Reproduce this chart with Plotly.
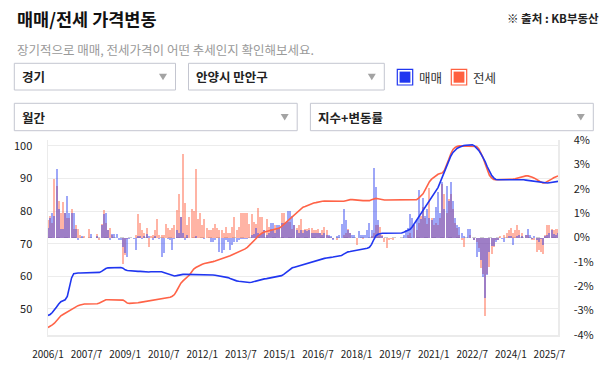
import plotly.graph_objects as go

# ---------------- data ----------------
months = [f"{y}/{m}" for y in range(2006, 2026) for m in range(1, 13)][:239]
tick_labels = months[::18]

sale_index = [
    48.0, 48.3, 48.9, 49.6, 50.6, 51.5, 52.2, 52.5, 52.8, 53.8, 56.5, 59.5,
    60.8, 61.0, 61.0, 61.0, 61.0, 61.0, 61.0, 61.0, 61.0, 61.0, 61.1, 61.1,
    61.2, 61.5, 62.0, 62.4, 62.6, 62.6, 62.7, 62.7, 62.8, 62.8, 62.7, 62.5,
    62.0, 61.8, 61.7, 61.6, 61.6, 61.5, 61.5, 61.5, 61.4, 61.3, 61.3, 61.3,
    61.4, 61.4, 61.5, 61.5, 61.5, 61.4, 61.2, 61.0, 60.8, 60.5, 60.2, 60.1,
    60.2, 60.4, 60.5, 60.6, 60.6, 60.6, 60.5, 60.5, 60.5, 60.4, 60.4, 60.4,
    60.4, 60.4, 60.4, 60.4, 60.4, 60.4, 60.3, 60.2, 60.1, 60.0, 59.9, 59.8,
    59.6, 59.3, 59.0, 58.8, 58.6, 58.5, 58.4, 58.3, 58.2, 58.1, 58.1, 58.2,
    58.4, 58.6, 58.8, 59.0, 59.1, 59.2, 59.3, 59.4, 59.5, 59.6, 59.7, 59.8,
    59.9, 60.2, 60.6, 61.1, 61.6, 62.1, 62.6, 62.8, 63.0, 63.2, 63.4, 63.6,
    63.9, 64.1, 64.3, 64.5, 64.6, 64.8, 64.9, 65.1, 65.3, 65.5, 65.6, 65.8,
    65.8, 65.9, 66.0, 66.0, 66.1, 66.4, 66.8, 67.2, 67.5, 67.6, 67.7, 67.8,
    67.9, 68.0, 68.1, 68.3, 68.5, 68.6, 68.9, 69.8, 71.2, 72.4, 72.9, 73.1,
    73.2, 73.2, 73.2, 73.2, 73.2, 73.2, 73.2, 73.2, 73.2, 73.3, 73.5, 73.8,
    74.0, 74.4, 75.2, 76.2, 77.1, 78.1, 79.1, 80.1, 81.1, 82.0, 83.0, 84.0,
    85.0, 86.0, 87.2, 88.8, 90.5, 92.0, 93.7, 95.4, 96.9, 98.0, 98.8, 99.3,
    99.6, 99.9, 100.1, 100.2, 100.3, 100.3, 100.3, 100.0, 99.4, 98.6, 97.6, 96.6,
    95.2, 93.6, 92.2, 91.0, 90.2, 89.7, 89.6, 89.6, 89.6, 89.7, 89.8, 89.8,
    89.8, 89.8, 89.7, 89.7, 89.6, 89.6, 89.6, 89.5, 89.4, 89.3, 89.2, 89.1,
    89.0, 88.9, 88.8, 88.7, 88.6, 88.6, 88.7, 88.8, 88.9, 89.0, 89.1,
]

jeonse_index = [
    44.3, 44.6, 45.1, 45.6, 46.4, 47.3, 47.9, 48.3, 48.7, 49.1, 49.6, 50.0,
    50.4, 50.7, 51.0, 51.2, 51.4, 51.5, 51.5, 51.5, 51.5, 51.5, 51.5, 51.6,
    51.8, 52.1, 52.5, 52.8, 52.8, 52.8, 52.8, 52.8, 52.8, 52.8, 52.8, 52.7,
    52.3, 51.8, 51.7, 51.7, 51.7, 51.8, 51.9, 52.0, 52.1, 52.2, 52.3, 52.5,
    52.7, 52.8, 52.9, 52.9, 53.0, 53.0, 53.1, 53.2, 53.4, 53.6, 53.9, 54.4,
    55.5, 56.8, 57.9, 58.6, 59.2, 59.7, 60.4, 61.3, 62.2, 62.7, 63.1, 63.5,
    63.7, 63.9, 64.0, 64.2, 64.4, 64.5, 64.7, 64.9, 65.1, 65.4, 65.7, 65.9,
    66.0, 66.3, 66.6, 66.9, 67.2, 67.5, 67.7, 68.0, 68.4, 68.9, 69.5, 70.1,
    70.7, 71.5, 72.3, 72.9, 73.3, 73.6, 73.8, 74.0, 74.2, 74.4, 74.5, 74.7,
    74.8, 75.3, 75.9, 76.5, 77.0, 77.5, 78.2, 78.9, 79.6, 80.2, 80.8, 81.2,
    81.4, 81.7, 82.0, 82.3, 82.5, 82.6, 82.8, 82.9, 83.0, 83.1, 83.1, 83.1,
    83.1, 83.0, 83.0, 83.0, 82.9, 82.9, 83.0, 83.2, 83.4, 83.5, 83.5, 83.4,
    83.4, 83.3, 83.3, 83.2, 83.2, 83.2, 83.2, 83.5, 83.8, 83.9, 83.8, 83.6,
    83.4, 83.4, 83.4, 83.4, 83.4, 83.4, 83.4, 83.4, 83.4, 83.4, 83.4, 83.4,
    83.4, 83.4, 83.4, 83.4, 83.5, 84.0, 84.7, 85.3, 86.5, 87.9, 89.0, 89.8,
    90.3, 90.9, 91.3, 91.5, 91.7, 92.5, 94.0, 95.8, 97.6, 98.9, 99.5, 99.9,
    100.0, 100.0, 99.9, 99.8, 99.8, 99.8, 99.9, 100.0, 99.8, 99.1, 97.9, 96.4,
    94.5, 92.5, 91.0, 90.2, 89.7, 89.6, 89.6, 89.6, 89.6, 89.6, 89.7, 89.7,
    89.7, 89.8, 89.9, 90.1, 90.4, 90.6, 90.7, 90.8, 90.8, 90.7, 90.4, 90.1,
    89.8, 89.3, 88.9, 88.6, 88.7, 89.0, 89.4, 89.8, 90.2, 90.5, 90.8,
]

sale_rate = [
    0.4, 0.8, 1.0, 0.9, 2.8, 1.15, 0.35, 0.35, 1.0, 1.7, 1.0, 1.0,
    1.0, 0.35, -0.12, 0.0, 0.05, 0.0, 0.0, 0.0, 0.15, 0.0, 0.0, 0.05,
    0.0, 0.5, 0.95, 1.0, 0.3, -0.1, 0.15, 0.15, 0.15, -0.1, -0.1, -0.38,
    -0.65, -0.8, -0.05, 0.0, -0.05, -0.5, 0.05, 0.05, -0.05, 0.05, 0.15, 0.05,
    0.0, -0.1, 0.05, 0.0, -0.05, -0.8, -0.65, 0.0, -0.05, -0.1, -0.5, -0.05,
    0.3, 0.2, 0.85, 0.2, -0.1, 0.1, 0.0, 0.0, 0.0, 0.05, 0.0, 0.0,
    0.0, -0.05, 0.0, 0.0, -0.2, -0.2, -0.1, 0.0, -0.6, -0.65, -0.5, -0.1,
    -0.2, -0.5, -0.3, -0.2, -0.2, -0.1, -0.05, -0.05, -0.05, -0.05, 0.0, 0.1,
    0.15, 0.4, 0.2, 0.1, 0.2, 0.3, 0.1, 0.2, 0.6, 0.6, 0.2, 0.5,
    0.5, 0.6, 0.6, 0.6, 1.08, 1.1, 0.9, 0.5, 0.3, 0.2, 0.3, 0.2,
    0.3, 0.25, 0.3, 0.2, 0.2, 0.2, 0.2, 0.2, 0.1, 0.2, 0.1, 0.1,
    0.05, -0.1, 0.0, 0.05, 0.1, 0.56, 1.18, 0.7, 0.3, 0.2, 0.1, 0.1,
    0.0, 0.25, 0.1, 0.1, 0.1, 0.3, 0.6, 0.3, 2.86, 2.06, 0.7, 0.1,
    0.05, 0.0, 0.0, 0.0, 0.0, 0.0, 0.0, 0.0, 0.0, 0.0, 0.1, 0.3,
    0.4, 0.96, 0.8, 0.5, 0.7, 1.95, 0.75, 1.63, 0.9, 1.15, 0.8, 0.7,
    0.8, 1.27, 1.86, 1.0, 2.27, 1.15, 2.1, 1.5, 2.27, 1.5, 0.8, 0.5,
    0.45, 0.2, 0.05, 0.0, 0.35, 0.35, 0.0, -0.1, -0.8, -0.6, -0.92, -1.6,
    -2.5, -1.55, -0.6, -0.35, -0.35, -0.2, -0.1, 0.0, -0.05, -0.2, 0.0, 0.05,
    0.05, -0.3, 0.0, 0.05, 0.1, 0.05, 0.0, 0.1, 0.33, 0.1, -0.05, 0.05,
    -0.1, -0.2, -0.05, -0.3, 0.05, 0.1, 0.2, 0.3, 0.15, 0.1, 0.2,
]

jeonse_rate = [
    0.7, 0.9, 0.6, 2.4, 2.1, 1.48, 1.0, 1.47, 1.0, 0.8, 0.78, 1.18,
    0.36, 0.5, 0.36, 0.1, 0.0, 0.05, 0.0, 0.36, 0.0, 0.0, 0.0, 0.15,
    -0.1, 0.56, 1.13, 0.6, 0.3, 0.4, 0.1, 0.0, 0.0, 0.0, 0.0, -1.1,
    -0.72, -0.05, 0.0, 0.0, 0.0, 0.1, 0.96, 0.58, 0.3, 0.2, 0.4, -0.38,
    0.05, 0.1, 0.3, 0.74, 0.1, 0.1, 0.1, 0.56, 0.38, 0.3, 0.38, 0.5,
    1.13, 1.8, 0.85, 3.42, 1.41, 0.5, 0.85, 1.15, 1.1, 2.8, 0.75, 1.0,
    0.5, 0.74, 0.4, 0.3, 0.3, 0.4, 0.55, 0.4, 0.3, 0.3, 0.2, 0.45,
    0.2, 0.2, 0.45, 0.85, 0.3, 0.45, 1.0, 1.0, 1.0, 1.0, 0.55, 0.95,
    0.65, 0.55, 1.2, 0.85, 0.85, 0.3, 0.74, 0.45, 0.35, 0.35, 0.5, 0.4,
    0.4, 1.0, 1.0, 0.65, 0.65, 0.65, 0.35, 0.5, 0.4, 0.5, 0.74, 0.3,
    0.35, 0.35, 0.4, 0.4, 0.3, 0.3, 0.35, 0.2, 0.3, 0.45, 0.3, 0.05,
    0.0, -0.05, 0.0, -0.1, 0.0, 0.0, 0.1, 0.2, 0.35, 0.2, 0.0, 0.0,
    -0.3, 0.0, 0.0, -0.05, 0.0, 0.0, 0.0, 0.05, 0.2, 0.5, 0.5, 0.45,
    0.1, -0.2, -0.45, -0.1, -0.05, -0.1, 0.0, 0.0, 0.0, 0.0, 0.0, 0.0,
    0.1, 0.2, 0.0, 0.5, 0.3, 0.6, 0.9, 1.24, 0.8, 0.55, 2.04, 0.8,
    0.5, 0.6, 0.5, 0.8, 2.2, 1.8, 1.0, 1.6, 1.8, 1.15, 0.6, 0.4,
    0.1, -0.1, -0.38, 0.0, 0.0, 0.1, 0.0, -0.1, -0.2, -0.45, -1.27, -1.5,
    -3.2, -1.5, -1.2, -0.68, -0.4, -0.1, -0.1, 0.05, 0.0, 0.1, 0.2, 0.3,
    0.38, 0.2, 0.3, 0.52, 0.3, 0.2, 0.0, 0.1, 0.1, 0.0, -0.1, -0.1,
    -0.6, -0.53, -0.6, -0.67, 0.1, 0.52, 0.5, 0.35, 0.3, 0.35, 0.35,
]

# ---------------- styling ----------------
W, H = 607, 375
FONT = "Noto Sans CJK KR"
BLUE = "#2036f0"
RED = "#ff6347"


def px(x):
    return x / W


def py(y):
    return 1 - y / H


fig = go.Figure()

fig.add_trace(go.Bar(x=months, y=jeonse_rate, yaxis="y", width=0.9,
                     marker=dict(color="rgba(255,105,75,0.5)", line=dict(width=0)),
                     name="전세 변동률", showlegend=False))
fig.add_trace(go.Bar(x=months, y=sale_rate, yaxis="y", width=0.9,
                     marker=dict(color="rgba(40,60,240,0.45)", line=dict(width=0)),
                     name="매매 변동률", showlegend=False))
fig.add_trace(go.Scatter(x=months, y=jeonse_index, yaxis="y2", mode="lines",
                         line=dict(color=RED, width=1.6), name="전세", showlegend=False))
fig.add_trace(go.Scatter(x=months, y=sale_index, yaxis="y2", mode="lines",
                         line=dict(color=BLUE, width=1.6), name="매매", showlegend=False))

shapes = []
annotations = []

# zero dashed line for rates
shapes.append(dict(type="line", xref="paper", yref="y", x0=px(48), x1=px(558), y0=0, y1=0,
                   line=dict(color="#cfcfcf", width=1.2, dash="4px,4px"), layer="below"))

# dropdown boxes
boxes = [
    (14.3, 63.3, 175.5, 90.0, "경기"),
    (188.5, 63.3, 384.3, 90.0, "안양시 만안구"),
    (14.3, 103.3, 297.2, 130.7, "월간"),
    (310.4, 103.3, 593.3, 130.7, "지수+변동률"),
]
for x0, y0, x1, y1, label in boxes:
    shapes.append(dict(type="rect", xref="paper", yref="paper",
                       x0=px(x0), x1=px(x1), y0=py(y0), y1=py(y1),
                       line=dict(color="#c4c6d0", width=1), fillcolor="white"))
    cy = (y0 + y1) / 2
    ax = x1 - 12.5
    shapes.append(dict(type="path", xref="paper", yref="paper",
                       path=f"M {px(ax-4)},{py(cy-3)} L {px(ax+4)},{py(cy-3)} L {px(ax)},{py(cy+3.5)} Z",
                       fillcolor="#a3a3a3", line=dict(width=0)))
    annotations.append(dict(x=px(x0 + 5.5), y=py(cy), xref="paper", yref="paper",
                            text=label, showarrow=False, xanchor="left", yanchor="middle",
                            font=dict(family=FONT, size=12.5, color="#222222", weight="bold")))

# legend squares
for x0, color, label in [(397.3, BLUE, "매매"), (451.3, "#ff6040", "전세")]:
    shapes.append(dict(type="rect", xref="paper", yref="paper",
                       x0=px(x0), x1=px(x0 + 15.4), y0=py(69.3), y1=py(85.0),
                       line=dict(color=color, width=1.2), fillcolor="white"))
    shapes.append(dict(type="rect", xref="paper", yref="paper",
                       x0=px(x0 + 2.3), x1=px(x0 + 13.1), y0=py(71.6), y1=py(82.7),
                       line=dict(width=0), fillcolor=color))
    annotations.append(dict(x=px(x0 + 19.5), y=py(77.5), xref="paper", yref="paper",
                            text=label, showarrow=False, xanchor="left", yanchor="middle",
                            font=dict(family=FONT, size=12.5, color="#333333")))

# titles
annotations.append(dict(x=px(14.5), y=py(18.5), xref="paper", yref="paper",
                        text="매매/전세 가격변동", showarrow=False, xanchor="left", yanchor="middle",
                        font=dict(family=FONT, size=17.5, color="#111111", weight="bold")))
annotations.append(dict(x=px(15), y=py(49), xref="paper", yref="paper",
                        text="장기적으로 매매, 전세가격이 어떤 추세인지 확인해보세요.", showarrow=False,
                        xanchor="left", yanchor="middle",
                        font=dict(family=FONT, size=12.5, color="#9a9a9a")))
annotations.append(dict(x=px(601), y=py(18), xref="paper", yref="paper",
                        text="※ 출처 : KB부동산", showarrow=False, xanchor="right", yanchor="middle",
                        font=dict(family=FONT, size=11.5, color="#222222", weight="bold")))

fig.update_layout(
    width=W, height=H,
    margin=dict(l=0, r=0, t=0, b=0, pad=0, autoexpand=False),
    paper_bgcolor="white", plot_bgcolor="white",
    barmode="overlay", bargap=0,
    showlegend=False,
    font=dict(family=FONT, size=11, color="#333333"),
    xaxis=dict(type="category", domain=[px(48), px(558)], range=[0, len(months) - 1],
               tickmode="array", tickvals=tick_labels, ticktext=tick_labels,
               tickfont=dict(family=FONT, size=10, color="#222222"),
               showgrid=False, showline=True, linecolor="#ebebeb", linewidth=1.5,
               ticks="", ticklabelstandoff=9, zeroline=False, fixedrange=True,
               automargin=False),
    yaxis=dict(domain=[py(335), py(140)], range=[-4, 4], side="right",
               tickmode="array", tickvals=[-4, -3, -2, -1, 0, 1, 2, 3, 4],
               ticktext=["-4%", "-3%", "-2%", "-1%", "0%", "1%", "2%", "3%", "4%"],
               tickfont=dict(family=FONT, size=11, color="#222222"),
               showgrid=False, zeroline=False, showline=True, linecolor="#ebebeb",
               linewidth=1.5, ticks="", ticklabelstandoff=12, fixedrange=True,
               automargin=False),
    yaxis2=dict(overlaying="y", side="left", range=[42.0, 101.8],
                tickmode="array", tickvals=[50, 60, 70, 80, 90, 100],
                tickfont=dict(family=FONT, size=11, color="#222222"),
                showgrid=True, gridcolor="#ececec", gridwidth=1,
                zeroline=False, showline=True, linecolor="#ebebeb", linewidth=1.5,
                ticks="", ticklabelstandoff=12, fixedrange=True, automargin=False),
    shapes=shapes,
    annotations=annotations,
)

fig.write_html("out.html", config={"displayModeBar": False, "staticPlot": True},
               post_script="document.body.style.margin='0px';document.body.style.overflow='hidden';")
